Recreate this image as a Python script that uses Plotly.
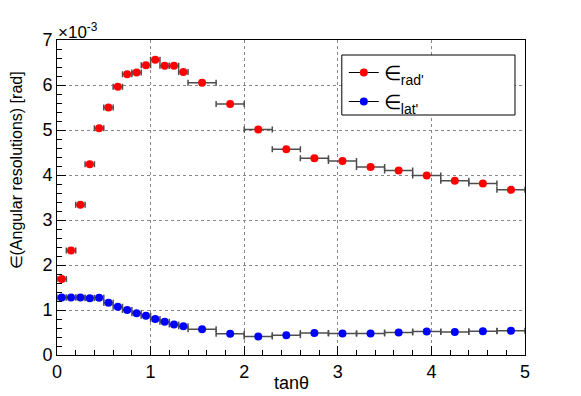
import plotly.graph_objects as go

# bin centres (tan theta) and half widths
x_centers = [0.05, 0.15, 0.25, 0.35, 0.45, 0.55, 0.65, 0.75, 0.85, 0.95, 1.05, 1.15, 1.25, 1.35,
             1.55, 1.85, 2.15, 2.45, 2.75, 3.05, 3.35, 3.65, 3.95, 4.25, 4.55, 4.85]
x_halfwidth = [0.05] * 14 + [0.15] * 12

# angular resolutions in units of 1e-3 rad
eps_rad = [1.69, 2.32, 3.34, 4.24, 5.04, 5.50, 5.96, 6.24, 6.28, 6.44, 6.56, 6.43, 6.43, 6.29,
           6.05, 5.58, 5.01, 4.57, 4.37, 4.31, 4.18, 4.10, 3.99, 3.87, 3.81, 3.67]
eps_lat = [1.28, 1.28, 1.28, 1.26, 1.27, 1.16, 1.07, 1.00, 0.93, 0.87, 0.80, 0.74, 0.68, 0.64,
           0.57, 0.47, 0.41, 0.44, 0.49, 0.48, 0.48, 0.50, 0.52, 0.51, 0.53, 0.54]

x_ticks = [0, 1, 2, 3, 4, 5]
y_ticks = [0, 1, 2, 3, 4, 5, 6, 7]

FONT = "Liberation Sans, Arial, sans-serif"
ERR_COLOR = "#4d4d4d"
EPS = "∈"

fig = go.Figure()

for vals, color in [(eps_rad, "#ff0000"), (eps_lat, "#0000ff")]:
    fig.add_trace(go.Scatter(
        x=x_centers, y=vals, mode="markers",
        marker=dict(color=color, size=8),
        error_x=dict(type="data", array=x_halfwidth, color=ERR_COLOR, thickness=1.5, width=3),
        showlegend=False,
    ))

# legend-only traces (ROOT style: black line with coloured marker)
for name, color in [(EPS + "<sub>rad'</sub>", "#ff0000"), (EPS + "<sub>lat'</sub>", "#0000ff")]:
    fig.add_trace(go.Scatter(
        x=[None], y=[None], mode="lines+markers", name=name,
        line=dict(color="black", width=1),
        marker=dict(color=color, size=8),
        showlegend=True,
    ))

axis_common = dict(
    showline=True, linecolor="black", linewidth=1, mirror=True,
    ticks="inside", ticklen=9, tickcolor="black", tickwidth=1,
    showgrid=True, gridcolor="#888888", griddash="dot", gridwidth=1,
    zeroline=False,
    tickfont=dict(family=FONT, size=18, color="black"),
    minor=dict(ticks="inside", ticklen=5, tickcolor="black", tickwidth=1, showgrid=False),
)

fig.update_xaxes(range=[0, 5], tickvals=x_ticks, ticktext=[str(v) for v in x_ticks],
                 minor_dtick=0.2, **axis_common)
fig.update_yaxes(range=[0, 7], tickvals=y_ticks, ticktext=[str(v) for v in y_ticks],
                 minor_dtick=0.2, **axis_common)

# legend box
fig.add_shape(type="rect", xref="paper", yref="paper",
              x0=(342 - 57.5) / 467.5, x1=(515 - 57.5) / 467.5,
              y0=(355 - 115) / 315, y1=(355 - 55) / 315,
              line=dict(color="black", width=1), fillcolor="white", layer="above")

fig.update_layout(
    width=573, height=388,
    margin=dict(l=49, r=56, t=32, b=41),
    paper_bgcolor="white", plot_bgcolor="white",
    showlegend=True,
    legend=dict(x=(344 - 57.5) / 467.5, y=(355 - 53) / 315, xanchor="left", yanchor="top",
                bgcolor="rgba(0,0,0,0)", borderwidth=0,
                font=dict(family=FONT, size=20, color="black"),
                itemwidth=30, tracegroupgap=0),
    annotations=[
        dict(text="tanθ", xref="paper", yref="paper", x=0.5, y=(355 - 383) / 315,
             xanchor="center", yanchor="middle", showarrow=False,
             font=dict(family=FONT, size=18, color="black")),
        dict(text=EPS + "(Angular resolutions) [rad]", xref="paper", yref="paper",
             x=(17 - 57.5) / 467.5, y=(355 - 170) / 315, textangle=-90,
             xanchor="center", yanchor="middle", showarrow=False,
             font=dict(family=FONT, size=16, color="black")),
        dict(text="×10<sup>-3</sup>", xref="paper", yref="paper", x=-0.002, y=(355 - 31) / 315,
             xanchor="left", yanchor="middle", showarrow=False,
             font=dict(family=FONT, size=17, color="black")),
    ],
)

fig.write_html("out.html")
